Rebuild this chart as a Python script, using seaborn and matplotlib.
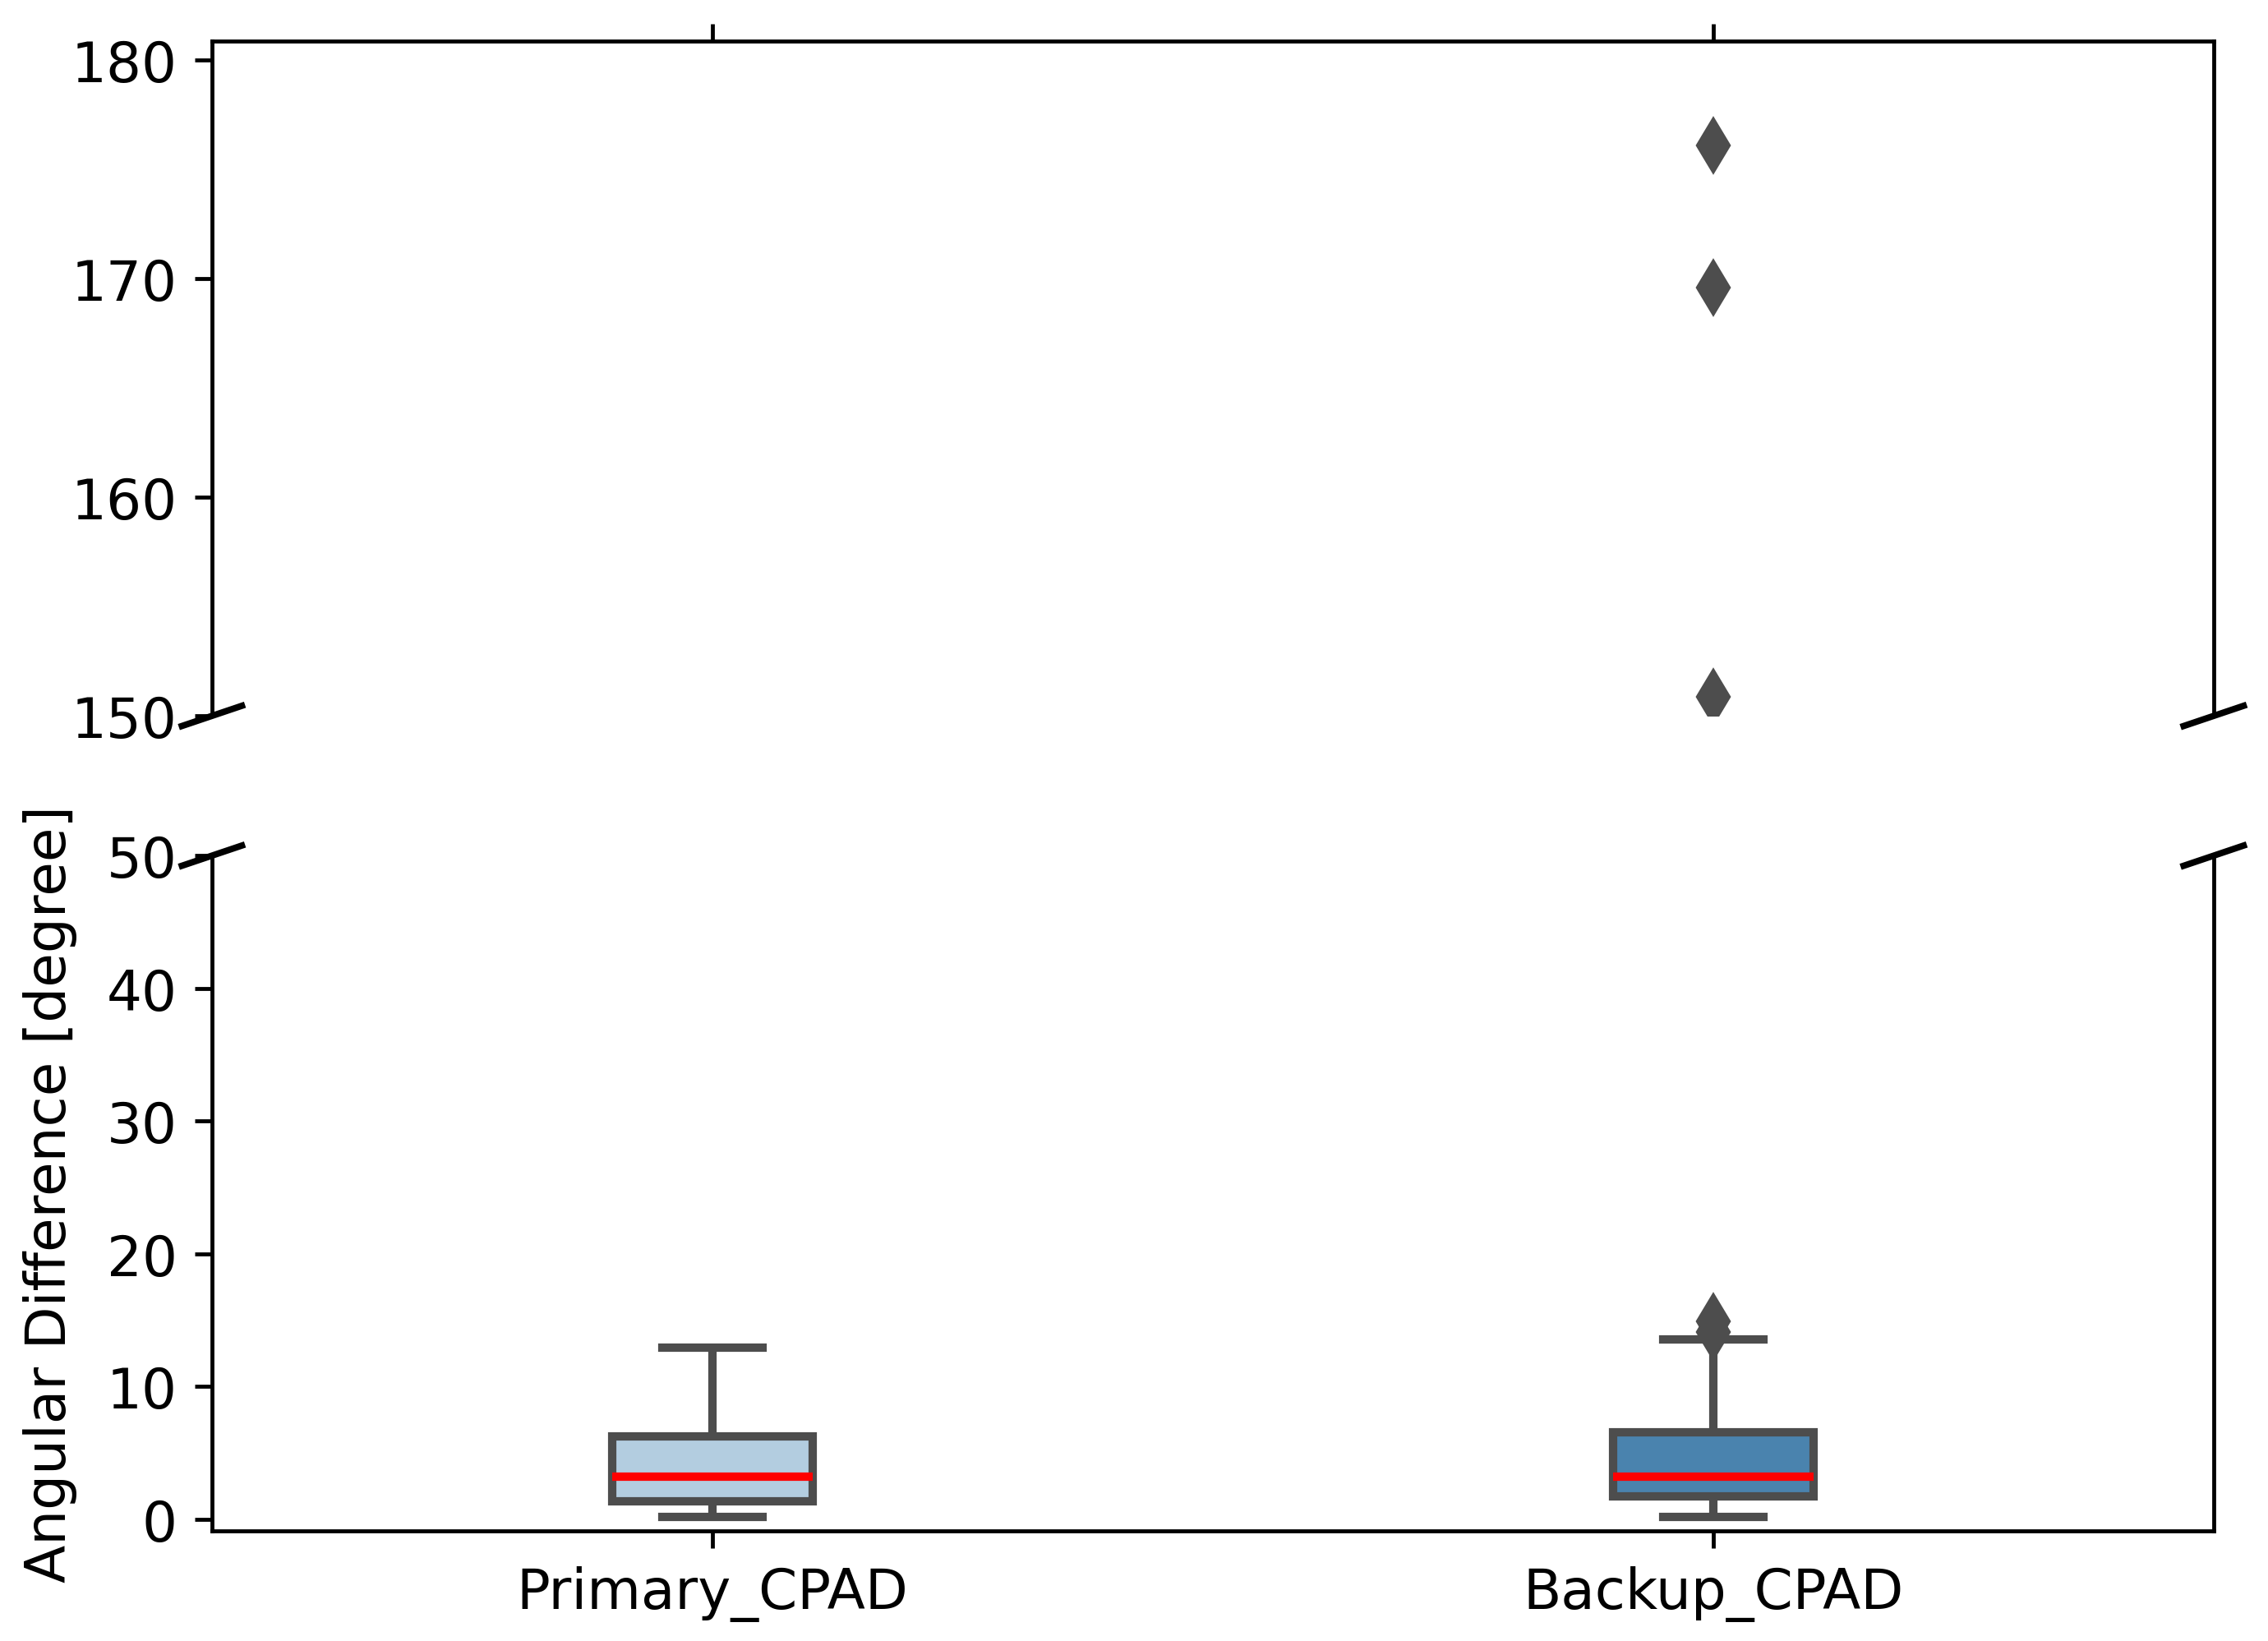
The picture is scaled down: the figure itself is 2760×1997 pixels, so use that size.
import pandas as pd
import matplotlib
matplotlib.use('Agg')
import matplotlib.pyplot as plt
import seaborn as sns


# values (box = whisker low, q1, median, q3, whisker high)
# repeated values only pin the quartiles where the box edges sit
categories = ['Primary_CPAD', 'Backup_CPAD']
primary_cpad = [0.19, 1.36, 3.22, 6.26, 12.95]
backup_cpad = [0.19,
               1.73, 1.73, 1.73, 1.73, 1.73, 1.73,
               3.22, 3.22, 3.22, 3.22, 3.22, 3.22,
               6.57, 6.57, 6.57, 6.57, 6.57, 6.57,
               13.57, 14.1, 14.9, 150.87, 169.6, 176.1]
box_colors = ['#b3cde0', '#4a83ae']

df = pd.DataFrame({
    'sensor': [categories[0]] * len(primary_cpad) + [categories[1]] * len(backup_cpad),
    'angle': primary_cpad + backup_cpad,
})

plt.rcParams['font.size'] = 11.3

fig, (ax1, ax2) = plt.subplots(2, 1, sharex=True, figsize=(6.4, 4.6314), dpi=431.4)
fig.subplots_adjust(left=0.0934, right=0.9757, top=0.9747, bottom=0.0671, hspace=0.207)

gray = '#4d4d4d'
for ax in (ax1, ax2):
    sns.boxplot(data=df, x='sensor', y='angle', hue='sensor', order=categories,
                hue_order=categories, palette=box_colors, legend=False,
                saturation=1, width=0.2, linewidth=1.7, linecolor=gray,
                fliersize=7,
                flierprops=dict(marker='d', markerfacecolor=gray, markeredgecolor=gray),
                medianprops=dict(color='red', linewidth=1.7),
                ax=ax)
    ax.set_xlabel('')
    ax.set_ylabel('')

# broken axis
ax2.set_xlim(-0.5, 1.5)
ax1.set_ylim(150, 180.9)
ax2.set_ylim(-0.87, 50)
ax1.set_yticks([150, 160, 170, 180])
ax2.set_yticks([0, 10, 20, 30, 40, 50])

ax1.spines['bottom'].set_visible(False)
ax2.spines['top'].set_visible(False)
ax1.xaxis.tick_top()
ax1.tick_params(labeltop=False)
ax2.xaxis.tick_bottom()

d = .015
kw = dict(transform=ax1.transAxes, color='k', clip_on=False, linewidth=1.3)
ax1.plot((-d, +d), (-d, +d), **kw)
ax1.plot((1 - d, 1 + d), (-d, +d), **kw)
kw.update(transform=ax2.transAxes)
ax2.plot((-d, +d), (1 - d, 1 + d), **kw)
ax2.plot((1 - d, 1 + d), (1 - d, 1 + d), **kw)

ax2.set_ylabel('Angular Difference [degree]', labelpad=6)

fig.savefig('out.png', dpi=431.4)
